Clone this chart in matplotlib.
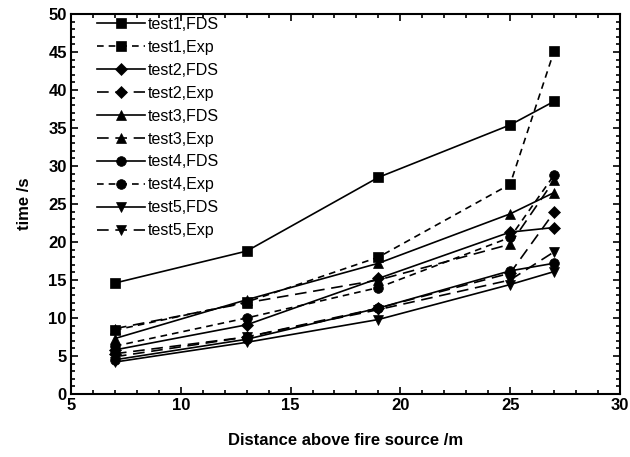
import matplotlib
matplotlib.use('Agg')
import matplotlib.pyplot as plt
from matplotlib.ticker import MultipleLocator

plt.rcParams['font.family'] = ['Liberation Sans', 'DejaVu Sans']

# --- data ---
distance = [7, 13, 19, 25, 27]

test1_fds = [14.6, 18.8, 28.5, 35.4, 38.5]
test1_exp = [8.4, 12.1, 18.0, 27.6, 45.1]
test2_fds = [5.8, 9.1, 15.2, 21.3, 21.9]
test2_exp = [5.3, 7.5, 11.3, 15.9, 23.9]
test3_fds = [7.3, 12.4, 17.2, 23.7, 26.5]
test3_exp = [8.6, 12.0, 15.0, 19.7, 28.1]
test4_fds = [4.5, 7.2, 11.3, 16.2, 17.2]
test4_exp = [6.3, 10.0, 14.0, 20.6, 28.8]
test5_fds = [4.2, 6.8, 9.8, 14.4, 16.1]
test5_exp = [4.9, 7.5, 11.1, 15.0, 18.7]

labels = ['test1,FDS', 'test1,Exp', 'test2,FDS', 'test2,Exp', 'test3,FDS',
          'test3,Exp', 'test4,FDS', 'test4,Exp', 'test5,FDS', 'test5,Exp']
series = [test1_fds, test1_exp, test2_fds, test2_exp, test3_fds,
          test3_exp, test4_fds, test4_exp, test5_fds, test5_exp]
markers = ['s', 's', 'D', 'D', '^', '^', 'o', 'o', 'v', 'v']
short_dash = (0, (4, 3))
long_dash = (0, (7, 4))
styles = ['-', short_dash, '-', long_dash, '-', long_dash, '-', short_dash, '-', long_dash]
msizes = [6.5, 6.5, 6, 6, 7, 7, 7, 7, 7, 7]

fig = plt.figure(figsize=(6.3, 4.57), dpi=100)
ax = fig.add_axes([0.1127, 0.1379, 0.8713, 0.8315])

for y, lab, m, ls, ms in zip(series, labels, markers, styles, msizes):
    ax.plot(distance, y, color='black', linestyle=ls, linewidth=1.2,
            marker=m, markersize=ms, markeredgewidth=0.5, label=lab)

ax.set_xlim(5, 30)
ax.set_ylim(0, 50)
ax.xaxis.set_major_locator(MultipleLocator(5))
ax.xaxis.set_minor_locator(MultipleLocator(1))
ax.yaxis.set_major_locator(MultipleLocator(5))
ax.yaxis.set_minor_locator(MultipleLocator(1))
ax.tick_params(which='both', direction='in', top=True, right=True, width=1.2)
ax.tick_params(which='major', length=5, labelsize=12, pad=3)
ax.tick_params(which='minor', length=3)
for lbl in ax.get_xticklabels() + ax.get_yticklabels():
    lbl.set_fontweight('bold')
for sp in ax.spines.values():
    sp.set_linewidth(1.5)

ax.set_xlabel('Distance above fire source /m', fontsize=12, fontweight='bold', labelpad=14)
ax.set_ylabel('time /s', fontsize=12, fontweight='bold', labelpad=12)

ax.legend(loc='upper left', frameon=False, fontsize=11.5, handlelength=3.0,
          handletextpad=0.2, labelspacing=0.5, borderaxespad=0.0,
          bbox_to_anchor=(0.035, 1.01))

fig.savefig('out.png', dpi=100)
